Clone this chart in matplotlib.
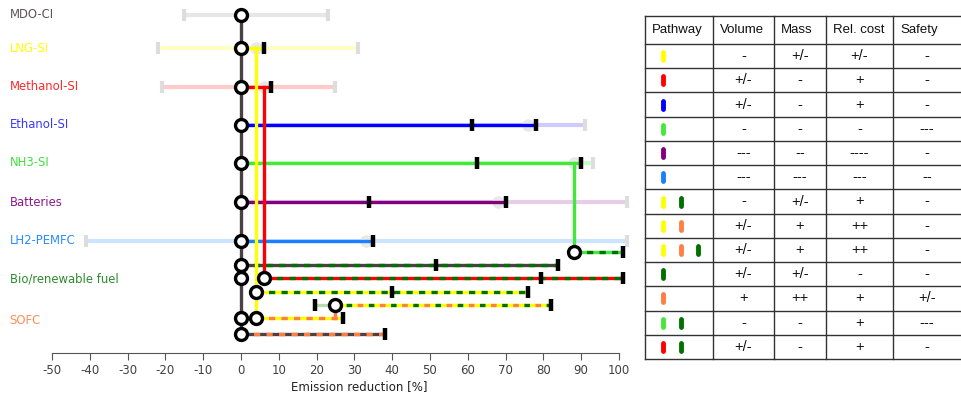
import numpy as np
import matplotlib.pyplot as plt

plt.rcParams['lines.scale_dashes'] = False
plt.rcParams['axes.unicode_minus'] = False
plt.rcParams['font.family'] = ['DejaVu Sans']

# colours ------------------------------------------------------------------
c_mdo = '#4a4046'
c_lng = '#ffff00'
c_meth = '#ff0000'
c_eth = '#0000ff'
c_nh3 = '#44e83a'
c_bat = '#800080'
c_lh2 = '#1a80ff'
c_bio = '#007000'
c_sofc = '#ff7f40'

# single pathways -----------------------------------------------------------
pathways = ["MDO-CI", "LNG-SI", "Methanol-SI", "Ethanol-SI", "NH3-SI", "Batteries", "LH2-PEMFC"]
path_colors = [c_mdo, c_lng, c_meth, c_eth, c_nh3, c_bat, c_lh2]
range_colors = ['#e6e6e6', '#ffffc4', '#ffcaca', '#ccccff', '#ccffcc', '#e8cce8', '#cce4ff']
range_low = [-15, -22, -21, 0, 0, 0, -41]
range_high = [23, 31, 25, 91, 93, 102, 102]
central = [None, 4, 6, 76, 88, 68, 33]
bar_end = [None, 6, 8, 78, 90, 70, 35]
bar_tick = [None, None, None, 61, 62.5, 34, None]

# combined pathways ---------------------------------------------------------
combo_colors = [(c_nh3, c_bio), (c_mdo, c_bio), (c_meth, c_bio), (c_lng, c_bio),
                (c_lng, c_sofc, c_bio), (c_lng, c_sofc), (c_mdo, c_sofc)]
combo_start = [88, 0, 6, 4, 25, 4, 0]
combo_end = [101, 84, 101, 76, 82, 27, 38]
combo_tick = [None, 51.5, 79.5, 40, None, None, None]
combo_low = [None, None, None, None, 19.5, None, None]

extra_labels = ["Bio/renewable fuel", "SOFC"]
extra_colors = ['#2e8b2e', '#ff8c5a']

# table ---------------------------------------------------------------------
table_cols = ["Pathway", "Volume", "Mass", "Rel. cost", "Safety"]
table_pills = [[c_lng], [c_meth], [c_eth], [c_nh3], [c_bat], [c_lh2],
               [c_lng, c_bio], [c_lng, c_sofc], [c_lng, c_sofc, c_bio],
               [c_bio], [c_sofc], [c_nh3, c_bio], [c_meth, c_bio]]
volume = ["-", "+/-", "+/-", "-", "---", "---", "-", "+/-", "+/-", "+/-", "+", "-", "+/-"]
mass = ["+/-", "-", "-", "-", "--", "---", "+/-", "+", "+", "+/-", "++", "-", "-"]
rel_cost = ["+/-", "+", "+", "-", "----", "---", "+", "++", "++", "-", "+", "+", "+"]
safety = ["-", "-", "-", "---", "-", "--", "-", "-", "-", "-", "+/-", "---", "-"]

# layout (row positions, pixel-like from top)
row_y = [15, 48, 87, 125, 163, 202, 241]
combo_y = [252, 265, 278, 292, 305, 318, 334]
extra_y = [278, 318]
label_y = row_y + [279, 320]

fig = plt.figure(figsize=(9.61, 3.95), dpi=100)
ax = fig.add_axes([52 / 961, 42 / 395, 578.3 / 961, 353 / 395])
ax.set_xlim(-50, 103)
ax.set_ylim(353, 0)

lw = 2.4
# faded ranges
for i in range(len(pathways)):
    y = row_y[i]
    ax.plot([range_low[i], range_high[i]], [y, y], color=range_colors[i], lw=3, zorder=1,
            solid_capstyle='butt')
    for xe in (range_low[i], range_high[i]):
        if xe != 0:
            ax.plot(xe, y, marker='|', ms=8, mew=3, color='#dddddd', zorder=1.2)
    if central[i] is not None:
        ax.plot(central[i], y, 'o', ms=9, color='#e8e8e8', mec='none', zorder=1.5)
    if bar_end[i] is not None:
        ax.plot([0, bar_end[i]], [y, y], color=path_colors[i], lw=lw, zorder=2,
                solid_capstyle='butt')
        ax.plot(bar_end[i], y, marker='|', ms=9, mew=3.2, color='black', zorder=4)
    if bar_tick[i] is not None:
        ax.plot(bar_tick[i], y, marker='|', ms=9, mew=3.2, color='black', zorder=4)

# combined pathways: multi-colour dashed lines
for j in range(len(combo_start)):
    y = combo_y[j]
    cols = combo_colors[j]
    xs = [combo_start[j], combo_end[j]]
    if combo_low[j] is not None:
        ax.plot([combo_low[j], combo_start[j]], [y, y], color='#b8dcb0', lw=lw, zorder=1.8)
        ax.plot(combo_low[j], y, marker='|', ms=9, mew=3.2, color='black', zorder=4)
    ax.plot(xs, [y, y], color=cols[0], lw=lw, zorder=2, solid_capstyle='butt')
    if len(cols) == 2:
        ax.plot(xs, [y, y], color=cols[1], lw=lw, zorder=2.1,
                linestyle=(0, (4.5, 4.5)), dash_capstyle='butt')
    else:
        ax.plot(xs, [y, y], color=cols[1], lw=lw, zorder=2.1,
                linestyle=(0, (4, 12)), dash_capstyle='butt')
        ax.plot(xs, [y, y], color=cols[2], lw=lw, zorder=2.1,
                linestyle=(8, (4, 12)), dash_capstyle='butt')
    ax.plot(combo_end[j], y, marker='|', ms=9, mew=3.2, color='black', zorder=4)
    if combo_tick[j] is not None:
        ax.plot(combo_tick[j], y, marker='|', ms=9, mew=3.2, color='black', zorder=4)

# branch connectors
ax.plot([0, 0], [row_y[0], combo_y[6]], color=c_mdo, lw=lw, zorder=3)
ax.plot([4, 4], [row_y[1], combo_y[5]], color=c_lng, lw=lw, zorder=3)
ax.plot([6, 6], [row_y[2], combo_y[2]], color=c_meth, lw=lw, zorder=3)
ax.plot([88, 88], [row_y[4], combo_y[0]], color=c_nh3, lw=lw, zorder=3)
ax.plot([25, 25], [combo_y[4], combo_y[5]], color=c_sofc, lw=lw, zorder=3)

# circles
circ = dict(marker='o', ms=8.6, mfc='white', mec='black', mew=2.4, ls='none', zorder=5)
ax.plot([0] * len(row_y), row_y, **circ)
ax.plot(combo_start, combo_y, **circ)
ax.plot([0] * len(extra_y), extra_y, **circ)

# row labels
all_labels = pathways + extra_labels
all_label_colors = ['#5f5358', '#ffff00', '#ff2a2a', '#3838ff', '#40e040', '#8b1a8b',
                    '#2a8cff'] + extra_colors
for lab, yl, cl in zip(all_labels, label_y, all_label_colors):
    ax.text(-61.2, yl, lab, color=cl, fontsize=8.4, va='center', ha='left', clip_on=False)

for s in ['top', 'right', 'left']:
    ax.spines[s].set_visible(False)
ax.spines['bottom'].set_bounds(-50, 100)
ax.spines['bottom'].set_color('#555555')
ax.set_yticks([])
ax.set_xticks(np.arange(-50, 101, 10))
ax.tick_params(axis='x', length=5, color='#555555', labelsize=8.5, labelcolor='#404040', pad=3)
ax.set_xlabel("Emission reduction [%]", fontsize=8.5, color='#222222', labelpad=2)
ax.xaxis.label.set_x(0.531)

# table on the right
tx = fig.add_axes([0, 0, 1, 1])
tx.set_xlim(0, 961)
tx.set_ylim(395, 0)
tx.axis('off')
col_x = [645, 713, 774, 826, 893, 965]
row_edges = [16] + list(np.linspace(44, 359, len(table_pills) + 1))
for xc in col_x:
    tx.plot([xc, xc], [row_edges[0], row_edges[-1]], color='#333333', lw=1)
for yr in row_edges:
    tx.plot([col_x[0], col_x[-1]], [yr, yr], color='#333333', lw=1)
for k, name in enumerate(table_cols):
    tx.text(col_x[k] + 7, (row_edges[0] + row_edges[1]) / 2, name, fontsize=9.5,
            family='Liberation Sans', va='center', ha='left', color='#111111')
columns = [volume, mass, rel_cost, safety]
for r in range(len(table_pills)):
    yc = (row_edges[r + 1] + row_edges[r + 2]) / 2
    for p, pc in enumerate(table_pills[r]):
        xp = 663 + 17.5 * p
        tx.plot([xp, xp], [yc - 4, yc + 4], color=pc, lw=3.5, solid_capstyle='round')
    for k, colvals in enumerate(columns):
        xc = (col_x[k + 1] + col_x[k + 2]) / 2
        if k == 3:
            xc = 927
        tx.text(xc, yc, colvals[r], fontsize=10.5, family='Liberation Sans',
                va='center', ha='center', color='#111111')

fig.savefig('out.png', dpi=100)
